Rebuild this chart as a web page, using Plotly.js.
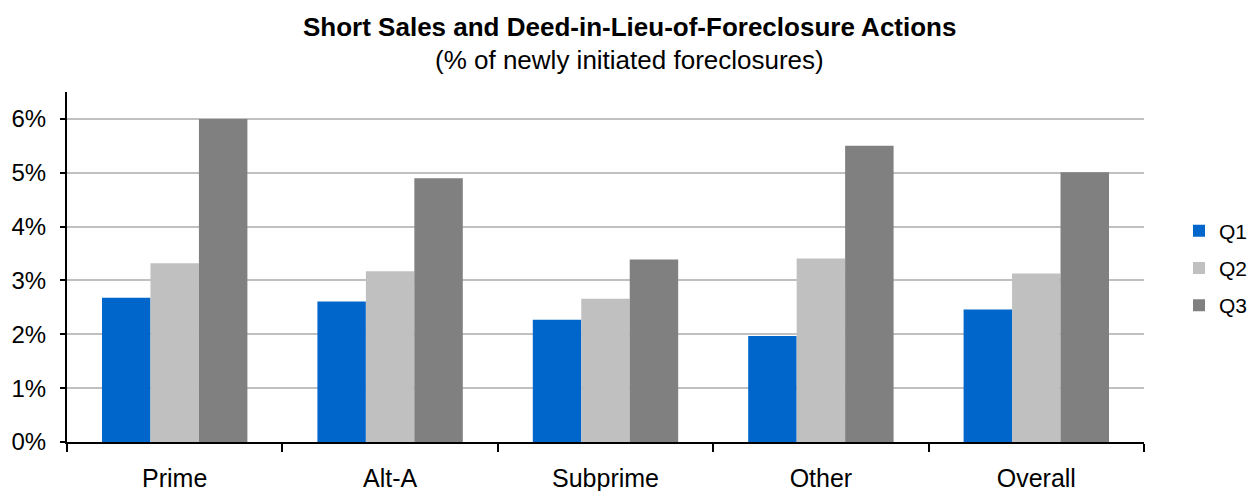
<!DOCTYPE html>
<html>
<head>
<meta charset="utf-8">
<script src="https://cdn.plot.ly/plotly-3.0.1.min.js"></script>
<style>html,body{margin:0;padding:0;background:#fff;}#chart{width:1251px;height:491px;}</style>
</head>
<body>
<div id="chart"></div>
<script>
const categories = ["Prime", "Alt-A", "Subprime", "Other", "Overall"];
const seriesNames = ["Q1", "Q2", "Q3"];
const q1 = [0.0268, 0.0261, 0.0227, 0.0197, 0.0246];
const q2 = [0.0332, 0.0317, 0.0266, 0.0341, 0.0313];
const q3 = [0.0600, 0.0490, 0.0339, 0.0550, 0.0501];
const colors = ["#0066CC", "#C0C0C0", "#808080"];
const yTickVals = [0, 0.01, 0.02, 0.03, 0.04, 0.05, 0.06];

const allSeries = [q1, q2, q3];
const traces = allSeries.map((vals, i) => ({
  type: "bar",
  name: seriesNames[i],
  x: categories,
  y: vals,
  marker: {color: colors[i], line: {width: 0}},
  legendgroup: "g" + i,
  hoverinfo: "skip"
}));

const font = "Liberation Sans, Arial, sans-serif";
const ML = 67, MR = 107, MT = 92, MB = 49, W = 1251, H = 491;
const plotW = W - ML - MR, plotH = H - MT - MB;
function px2paperX(px){ return (px - ML) / plotW; }
function px2paperY(py){ return (H - MB - py) / plotH; }

const layout = {
  width: W,
  height: H,
  paper_bgcolor: "#ffffff",
  plot_bgcolor: "#ffffff",
  margin: {l: ML, r: MR, t: MT, b: MB, autoexpand: false},
  barmode: "group",
  bargap: 0.325,
  bargroupgap: 0,
  font: {family: font, color: "#000"},
  showlegend: true,
  legend: {
    x: px2paperX(1179), xanchor: "left", y: px2paperY(268), yanchor: "middle",
    font: {family: font, size: 21, color: "#000"},
    tracegroupgap: 7,
    itemwidth: 30,
    bgcolor: "rgba(0,0,0,0)"
  },
  xaxis: {
    type: "category",
    showline: true, linecolor: "#000", linewidth: 2,
    ticks: "outside", tickson: "boundaries", ticklen: 8, tickwidth: 2, tickcolor: "#000",
    tickfont: {family: font, size: 25, color: "#000"},
    ticklabelstandoff: 13,
    showgrid: false, zeroline: false,
    automargin: false
  },
  yaxis: {
    range: [0, 0.065],
    tickvals: yTickVals,
    tickformat: ".0%",
    showline: true, linecolor: "#000", linewidth: 2,
    ticks: "outside", ticklen: 5, tickwidth: 2, tickcolor: "#000",
    tickfont: {family: font, size: 24, color: "#000"},
    ticklabelstandoff: 9,
    showgrid: true, gridcolor: "#C0C0C0", gridwidth: 2,
    zeroline: false,
    automargin: false
  },
  annotations: [
    {text: "<b>Short Sales and Deed-in-Lieu-of-Foreclosure Actions</b>", xref: "paper", yref: "paper",
     x: px2paperX(629), y: px2paperY(27), xanchor: "center", yanchor: "middle", showarrow: false,
     font: {family: font, size: 26, color: "#000"}},
    {text: "(% of newly initiated foreclosures)", xref: "paper", yref: "paper",
     x: px2paperX(629), y: px2paperY(60), xanchor: "center", yanchor: "middle", showarrow: false,
     font: {family: font, size: 26, color: "#000"}}
  ]
};

Plotly.newPlot("chart", traces, layout, {displayModeBar: false, staticPlot: true});
</script>
</body>
</html>
